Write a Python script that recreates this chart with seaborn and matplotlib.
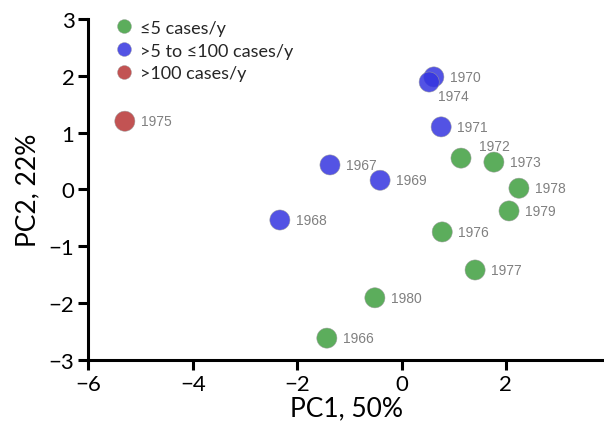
import matplotlib
matplotlib.use("Agg")
import matplotlib.pyplot as plt
from matplotlib.lines import Line2D
import seaborn as sns
import pandas as pd

years = ["1966", "1967", "1968", "1969", "1970", "1971", "1972", "1973",
         "1974", "1975", "1976", "1977", "1978", "1979", "1980"]
pc1 = [-1.43, -1.37, -2.33, -0.41, 0.62, 0.76, 1.14, 1.77,
       0.53, -5.30, 0.78, 1.41, 2.25, 2.06, -0.51]
pc2 = [-2.62, 0.43, -0.54, 0.16, 1.98, 1.10, 0.55, 0.48,
       1.89, 1.20, -0.75, -1.42, 0.02, -0.38, -1.91]
group = ["low", "mid", "mid", "mid", "mid", "mid", "low", "low",
         "mid", "high", "low", "low", "low", "low", "low"]
group_order = ["low", "mid", "high"]
group_labels = ["≤5 cases/y", ">5 to ≤100 cases/y", ">100 cases/y"]
group_colors = ["#3f9f3f", "#3535e0", "#b83535"]
x_ticks = [-6, -4, -2, 0, 2]
y_ticks = [-3, -2, -1, 0, 1, 2, 3]
x_label = "PC1, 50%"
y_label = "PC2, 22%"

df = pd.DataFrame({"year": years, "pc1": pc1, "pc2": pc2, "group": group})

sns.set_theme(style="white")
plt.rcParams["font.family"] = ["Lato", "DejaVu Sans"]

fig = plt.figure(figsize=(6.04, 4.31), dpi=100)
ax = fig.add_axes([88.3 / 604, 1 - 360.7 / 431, 1 - 88.3 / 604, (360.7 - 20) / 431])

palette = dict(zip(group_order, group_colors))
sns.scatterplot(data=df, x="pc1", y="pc2", hue="group", palette=palette,
                hue_order=group_order, s=210, alpha=0.85, edgecolor="#9a9a9a",
                linewidth=0.4, legend=False, ax=ax, zorder=3)

offsets = {"1974": (6.5, -10, "left", "center"), "1972": (13, 8.6, "left", "center")}
for yr, x, y in zip(years, pc1, pc2):
    dx, dy, ha, va = offsets.get(yr, (11.5, 0, "left", "center"))
    ax.annotate(yr, (x, y), xytext=(dx, dy), textcoords="offset points",
                ha=ha, va=va, fontsize=10, color="#808080",
                family=["Liberation Sans", "DejaVu Sans"], zorder=4)

ax.set_xlim(-6, (604 - 401.5) / 52.2)
ax.set_ylim(-3, 3)
ax.set_xticks(x_ticks)
ax.set_yticks(y_ticks)
ax.set_xticklabels([str(t).replace("-", "\u2212") for t in x_ticks])
ax.set_yticklabels([str(t).replace("-", "\u2212") for t in y_ticks])
ax.tick_params(axis="both", which="major", direction="out", length=7, width=2.2,
               labelsize=16, color="black", labelcolor="black", pad=3,
               bottom=True, left=True)
for side in ["top", "right"]:
    ax.spines[side].set_visible(False)
for side in ["left", "bottom"]:
    ax.spines[side].set_color("black")
    ax.spines[side].set_linewidth(2.2)
ax.set_xlabel(x_label, fontsize=19, color="black", labelpad=1)
ax.set_ylabel(y_label, fontsize=19, color="black", labelpad=6)

handles = [Line2D([], [], marker="o", linestyle="none", markersize=10,
                  markerfacecolor=c, markeredgecolor="#9a9a9a", markeredgewidth=0.3,
                  alpha=0.85) for c in group_colors]
ax.legend(handles, group_labels, loc="upper left", bbox_to_anchor=(0.03, 1.035),
          frameon=False, fontsize=13, handlelength=0.8, handletextpad=0.5,
          labelspacing=0.38, borderpad=0.2)

fig.savefig("out.png", dpi=100)
